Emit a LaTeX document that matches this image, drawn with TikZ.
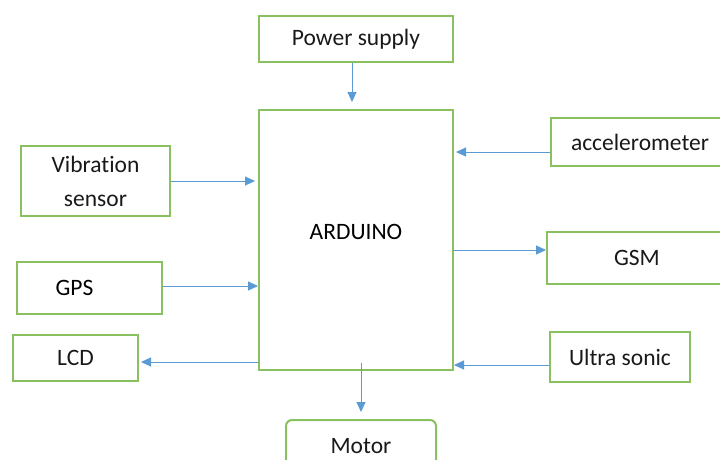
\documentclass[tikz,border=0pt]{standalone}
\usepackage{fontspec}
\setmainfont{Carlito}[Ligatures=NoCommon]
\usetikzlibrary{positioning}
\usetikzlibrary{arrows.meta}
\definecolor{boxgreen}{RGB}{137,192,96}
\definecolor{arrowblue}{RGB}{91,155,213}

\begin{document}
\begin{tikzpicture}[x=1pt, y=-1pt,
		block/.style={draw=boxgreen, line width=2pt, inner sep=0pt, font=\fontsize{23.5}{27}\selectfont, text=black!90},
		link/.style={draw=arrowblue, line width=1pt, -{Triangle[length=10pt,width=9pt]}}]
				\useasboundingbox (0,0) rectangle (720,459);
				\clip (0,0) rectangle (720,459);
				\node[block, minimum width=194, minimum height=46] (power) at (356,39) {Power supply};
				\node[block, minimum width=194, minimum height=260, label={[yshift=8pt, font=\fontsize{23.5}{27}\selectfont]center:ARDUINO}] (arduino) at (356,240) {};
				\node[block, minimum width=149, minimum height=70, align=center, font=\fontsize{23.5}{34}\selectfont] (vib) at (95.5,181) {Vibration\\sensor};
				\node[block, minimum width=145, minimum height=52, label={[xshift=-15pt, font=\fontsize{23.5}{27}\selectfont]center:GPS}] (gps) at (89.5,288) {};
				\node[block, minimum width=125, minimum height=46] (lcd) at (75.5,358) {LCD};
				\node[block, minimum width=180, minimum height=48, text width=180, align=left] (acc) at (641,142) {\hspace{20pt}accelerometer};
				\node[block, minimum width=180, minimum height=52, text width=180, align=left] (gsm) at (637,258) {\hspace{67pt}GSM};
				\node[block, minimum width=140, minimum height=50] (ultra) at (620,357) {Ultra sonic};
				\node[block, minimum width=150, minimum height=52, rounded corners=6pt] (motor) at (361,446) {Motor};
				\draw[link, shorten >=7pt] ([xshift=-4pt]power.south) -- ([xshift=-4pt]arduino.north);
				\draw[link, shorten >=3pt] (vib.east) -- (vib.east -| arduino.west);
				\draw[link] ([yshift=2pt]gps.east) -- ([yshift=2pt]gps.east -| arduino.west);
				\draw[link] ([yshift=-4pt]lcd.east -| arduino.west) -- ([yshift=-4pt, xshift=2pt]lcd.east);
				\draw[link] ([yshift=-10pt]acc.west) -- ([yshift=-10pt, xshift=2pt]acc.west -| arduino.east);
				\draw[link] ([yshift=8pt]gsm.west -| arduino.east) -- ([yshift=8pt]gsm.west);
				\draw[link] ([yshift=-8pt]ultra.west) -- ([yshift=-8pt]ultra.west -| arduino.east);
				\draw[link, shorten >=7pt] ([yshift=8pt]arduino.south -| motor.north) -- (motor.north);
			\end{tikzpicture}
\end{document}
